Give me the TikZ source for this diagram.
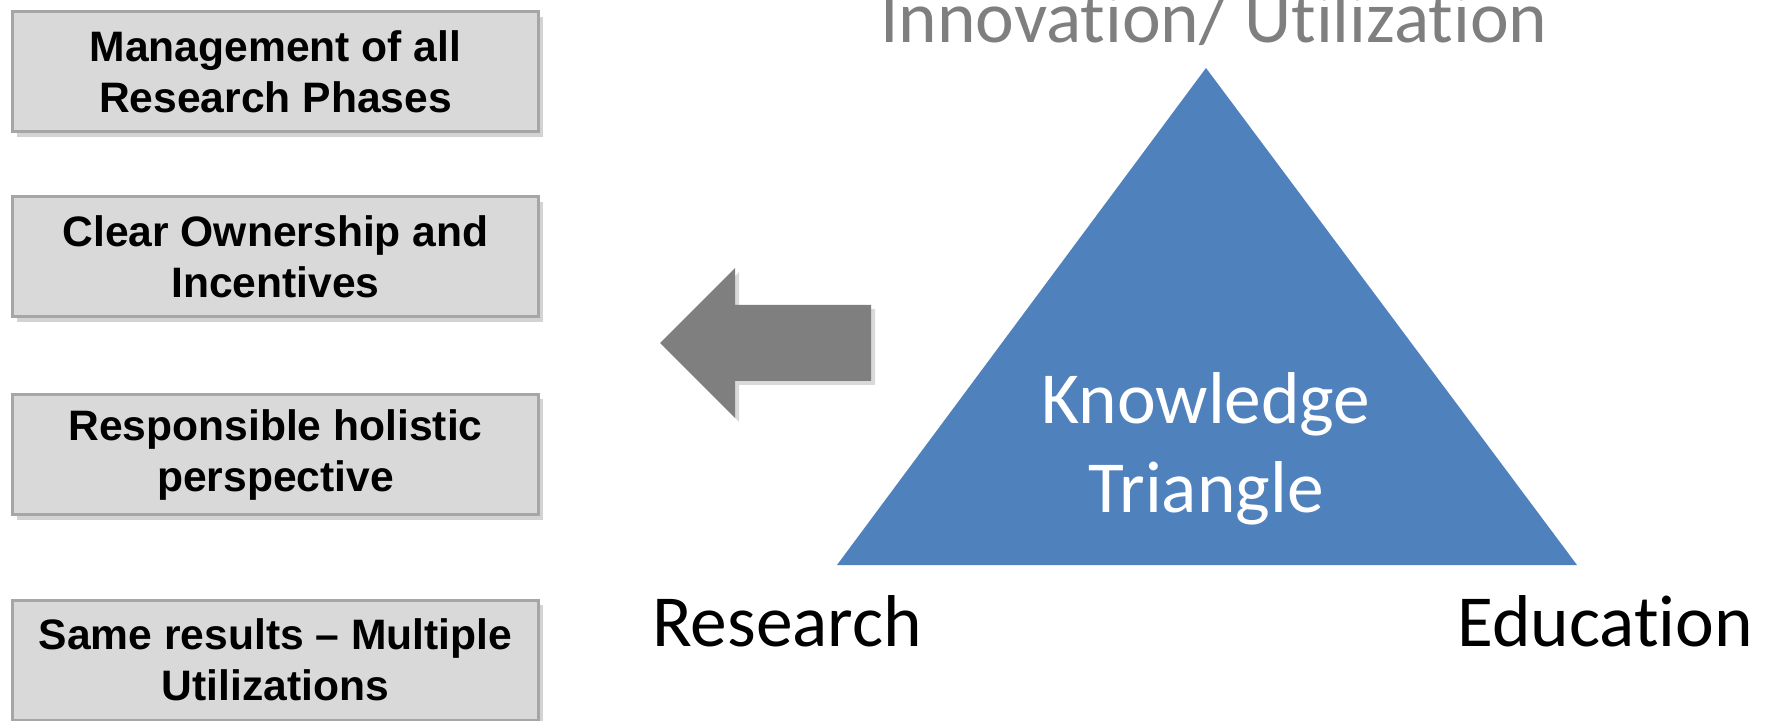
\documentclass[tikz,border=0pt]{standalone}
\usepackage{fontspec}
\setmainfont{Carlito}[Ligatures={NoCommon,NoRequired,NoContextual},RawFeature={-liga;-clig;-rlig;-calt}]
\newfontfamily\boxfont{Liberation Sans}
\usetikzlibrary{shadows}
\definecolor{kblue}{HTML}{4F81BD}
\definecolor{boxgray}{HTML}{D9D9D9}
\definecolor{edgegray}{HTML}{A6A6A6}
\definecolor{arrowgray}{HTML}{7F7F7F}
\tikzset{
	phasebox/.style={draw=edgegray, line width=1.5pt, fill=boxgray,
		minimum width=263pt, minimum height=60pt, align=center, inner sep=0pt,
		font=\boxfont\bfseries\fontsize{21.3}{25.5}\selectfont,
		drop shadow={shadow xshift=2pt, shadow yshift=-2.5pt, opacity=0.35}},
	cornerlabel/.style={font=\fontsize{36.7}{44.5}\selectfont, anchor=base, inner sep=0pt, align=center},
}

\begin{document}
\begin{tikzpicture}[x=0.5pt,y=-0.5pt]
\useasboundingbox (0,0) rectangle (1772,721);
\clip (0,0) rectangle (1772,721);
% left column
\foreach \yc/\txt [count=\i] in {72/{Management of all\\Research Phases},
	257/{Clear Ownership and\\Incentives},
	454.5/{Responsible holistic\\perspective},
	660/{Same results – Multiple\\Utilizations}}
	\node[phasebox] (box\i) at (275.5,\yc) {\txt};
% arrow
\fill[arrowgray, drop shadow={shadow xshift=2pt, shadow yshift=-2pt, opacity=0.3}]
	(660,343) -- (735,268) -- (735,305) -- (871,305) -- (871,381) -- (735,381) -- (735,418) -- cycle;
% triangle
\fill[kblue] (1206,68) -- (837,565) -- (1577,565) -- cycle;
\node[cornerlabel, text=white] (know) at (1206,512) {Knowledge\\Triangle};
\node[cornerlabel, text=arrowgray] (innov) at (1214,43) {Innovation/ Utilization};
\node[cornerlabel] (research) at (787,646) {Research};
\node[cornerlabel] (education) at (1605,646) {Education};
\end{tikzpicture}
\end{document}
